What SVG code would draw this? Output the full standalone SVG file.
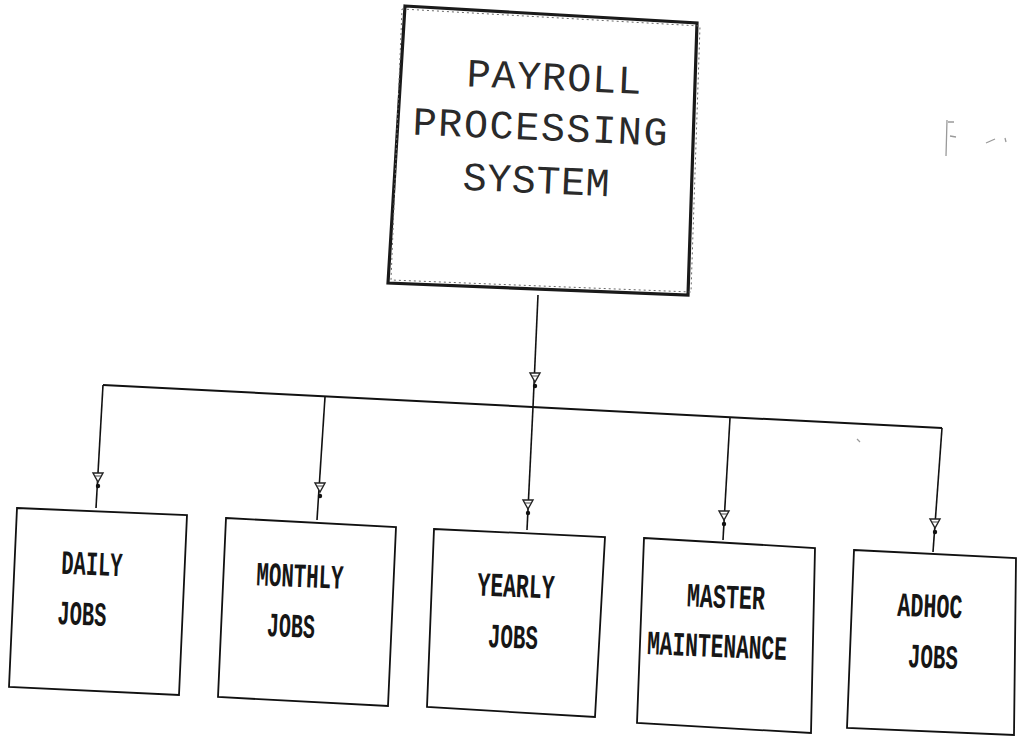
<svg xmlns="http://www.w3.org/2000/svg" xmlns:xlink="http://www.w3.org/1999/xlink" width="1018" height="736" viewBox="0 0 1018 736">
  <style>
    .bg { fill: #ffffff; }
    .root-box { fill: none; stroke: #1a1a1a; stroke-width: 3.2; stroke-linejoin: miter; }
    .root-box-grain { fill: none; stroke: #6a6a6a; stroke-width: 1; stroke-dasharray: 2 3; }
    .box { fill: #ffffff; stroke: #111111; stroke-width: 1.8; stroke-linejoin: miter; }
    .wire { fill: none; stroke: #111111; stroke-width: 1.6; }
    .bus { fill: none; stroke: #111111; stroke-width: 2; }
    .title { font-family: "Liberation Mono", "DejaVu Sans Mono", monospace; font-size: 40px; fill: #2a2a2a; text-anchor: middle; }
    .label { font-family: "Liberation Mono", "DejaVu Sans Mono", monospace; font-size: 34px; font-weight: bold; fill: #161616; text-anchor: middle; }
    .speck { fill: none; stroke: #9a9a9a; stroke-width: 1.3; }
  </style>
  <defs>
    <!-- small open arrowhead with a dot beneath, drawn on each drop line -->
    <g id="tick">
      <path d="M-5,-7 L5,-7 L0,2 Z" fill="#ffffff" stroke="#222222" stroke-width="1.4"/>
      <line x1="-3" y1="-4" x2="3" y2="-4" stroke="#444444" stroke-width="1"/>
      <circle cx="0" cy="6" r="2.2" fill="#111111"/>
    </g>
  </defs>

  <rect class="bg" x="0" y="0" width="1018" height="736"/>

  <!-- root node -->
  <g id="payroll-processing-system">
    <polygon class="root-box" points="405,6 697,23 688,295 388,283"/>
    <polygon class="root-box-grain" points="402,9 700,26 691,292 391,280"/>
    <text class="title" transform="rotate(2.5 554 80)" x="554" y="90" textLength="175" lengthAdjust="spacing">PAYROLL</text>
    <text class="title" transform="rotate(2.5 540 130)" x="540" y="140" textLength="255" lengthAdjust="spacing">PROCESSING</text>
    <text class="title" transform="rotate(2.5 536 183)" x="536" y="193" textLength="147" lengthAdjust="spacing">SYSTEM</text>
  </g>

  <!-- connectors -->
  <g id="connectors">
    <line class="wire" x1="538" y1="295" x2="533" y2="407"/>
    <line class="bus" x1="103" y1="385" x2="942" y2="428"/>
    <line class="wire" x1="103" y1="385" x2="96" y2="508"/>
    <line class="wire" x1="325" y1="397" x2="317" y2="520"/>
    <line class="wire" x1="533" y1="407" x2="527" y2="530"/>
    <line class="wire" x1="730" y1="418" x2="723" y2="540"/>
    <line class="wire" x1="942" y1="428" x2="933" y2="552"/>
    <use xlink:href="#tick" href="#tick" x="535" y="380"/>
    <use xlink:href="#tick" href="#tick" x="98" y="480"/>
    <use xlink:href="#tick" href="#tick" x="320" y="490"/>
    <use xlink:href="#tick" href="#tick" x="528" y="507"/>
    <use xlink:href="#tick" href="#tick" x="724" y="518"/>
    <use xlink:href="#tick" href="#tick" x="935" y="526"/>
  </g>

  <!-- child nodes -->
  <g id="daily-jobs">
    <polygon class="box" points="17,508 187,515 179,695 9,687"/>
    <text class="label" transform="rotate(2.4 92 565)" x="92" y="575" textLength="61" lengthAdjust="spacingAndGlyphs">DAILY</text>
    <text class="label" transform="rotate(2.4 82 615)" x="82" y="625" textLength="49" lengthAdjust="spacingAndGlyphs">JOBS</text>
  </g>

  <g id="monthly-jobs">
    <polygon class="box" points="226,518 396,527 388,706 218,697"/>
    <text class="label" transform="rotate(2.4 300 577)" x="300" y="587" textLength="87" lengthAdjust="spacingAndGlyphs">MONTHLY</text>
    <text class="label" transform="rotate(2.4 291 627)" x="291" y="637" textLength="48" lengthAdjust="spacingAndGlyphs">JOBS</text>
  </g>

  <g id="yearly-jobs">
    <polygon class="box" points="434,529 605,537 595,717 427,707"/>
    <text class="label" transform="rotate(2.4 516 587)" x="516" y="597" textLength="77" lengthAdjust="spacingAndGlyphs">YEARLY</text>
    <text class="label" transform="rotate(2.4 513 638)" x="513" y="648" textLength="50" lengthAdjust="spacingAndGlyphs">JOBS</text>
  </g>

  <g id="master-maintenance">
    <polygon class="box" points="644,538 815,548 811,733 637,723"/>
    <text class="label" transform="rotate(2.4 726 598)" x="726" y="608" textLength="78" lengthAdjust="spacingAndGlyphs">MASTER</text>
    <text class="label" transform="rotate(2.4 717 647)" x="717" y="657" textLength="140" lengthAdjust="spacingAndGlyphs">MAINTENANCE</text>
  </g>

  <g id="adhoc-jobs">
    <polygon class="box" points="854,550 1016,558 1014,735 847,728"/>
    <text class="label" transform="rotate(2.4 930 607)" x="930" y="617" textLength="65" lengthAdjust="spacingAndGlyphs">ADHOC</text>
    <text class="label" transform="rotate(2.4 933 658)" x="933" y="668" textLength="50" lengthAdjust="spacingAndGlyphs">JOBS</text>
  </g>

  <!-- faint stray marks -->
  <g id="specks">
    <path class="speck" d="M947,120 L946,156 M948,122 L954,122 M950,136 L956,137 M986,143 L995,139 M1005,138 L1006,142"/>
    <path class="speck" d="M857,439 L860,442"/>
  </g>
</svg>
